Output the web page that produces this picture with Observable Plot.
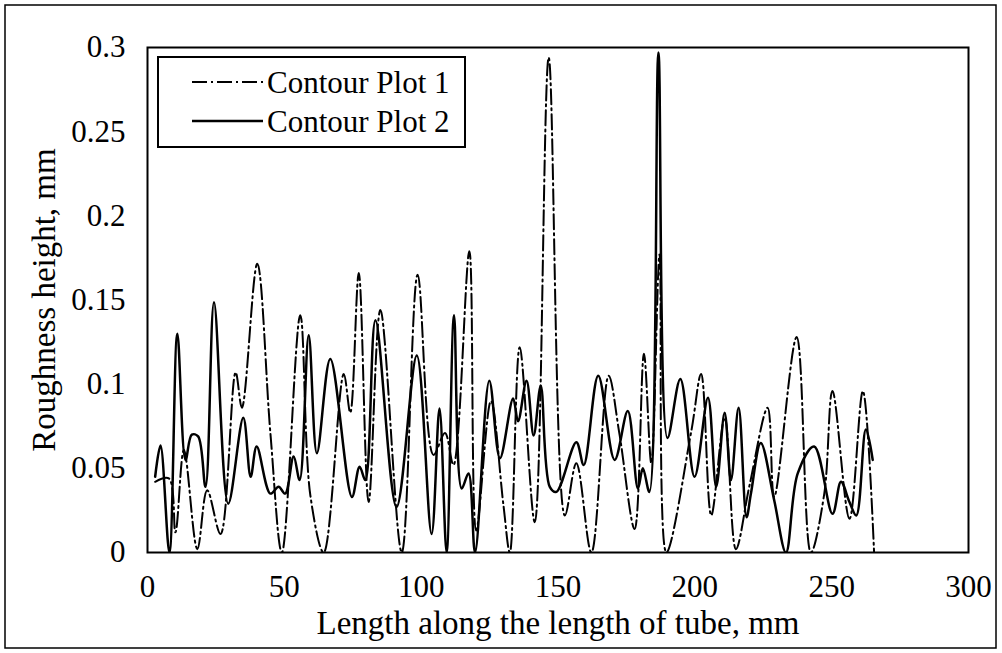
<!DOCTYPE html>
<html><head><meta charset="utf-8">
<script src="https://cdn.jsdelivr.net/npm/d3@7"></script>
<script src="https://cdn.jsdelivr.net/npm/@observablehq/plot@0.6"></script>
<style>
body{margin:0;background:#fff}
#chart{position:relative;width:1002px;height:653px;overflow:hidden}
</style>
</head><body><div id="chart"></div>
<script>
const xTicks = [0, 50, 100, 150, 200, 250, 300];
const yTicks = [0, 0.05, 0.1, 0.15, 0.2, 0.25, 0.3];
const yTickLabels = ["0", "0.05", "0.1", "0.15", "0.2", "0.25", "0.3"];
const seriesNames = ["Contour Plot 1", "Contour Plot 2"];
const xTitle = "Length along the length of tube, mm";
const yTitle = "Roughness height, mm";

// Contour Plot 1 (dash-dot)
const plot1X = [2.8, 7.8, 10.2, 13.3, 18.2, 21.8, 26.7, 32.2, 34.5, 40.1, 44.9, 49.1, 55.8, 59.5, 64.4, 71.7, 74.1, 77.2, 80.8, 85.1, 92.9, 98.7, 104.5, 108.7, 111.8, 117.6, 120.1, 125.5, 130.0, 132.4, 136.0, 141.5, 146.6, 152.5, 156.7, 162.2, 168.5, 172.4, 178.0, 181.4, 184.1, 187.1, 189.6, 198.7, 202.3, 206.0, 210.9, 215.0, 220.0, 226.6, 229.0, 237.2, 242.4, 247.3, 250.3, 256.5, 261.4, 265.5];
const plot1Y = [0.042, 0.044, 0.012, 0.061, 0.002, 0.037, 0.011, 0.107, 0.086, 0.1715, 0.071, 0.0, 0.141, 0.034, 0.0, 0.106, 0.083, 0.166, 0.030, 0.144, 0.0, 0.165, 0.058, 0.071, 0.052, 0.179, 0.013, 0.090, 0.029, 0.0, 0.122, 0.018, 0.294, 0.022, 0.053, 0.0, 0.105, 0.071, 0.014, 0.118, 0.053, 0.177, 0.0, 0.072, 0.106, 0.022, 0.080, 0.002, 0.040, 0.086, 0.033, 0.128, 0.0, 0.035, 0.096, 0.020, 0.096, 0.0];

// Contour Plot 2 (solid)
const plot2X = [2.8, 4.75, 8.0, 10.9, 13.9, 16.2, 18.5, 21.2, 24.3, 29.5, 35.0, 37.7, 39.9, 44.9, 47.9, 50.3, 53.4, 55.6, 58.9, 61.9, 66.8, 74.7, 77.5, 79.6, 83.3, 91.0, 98.4, 103.8, 106.7, 109.3, 112.0, 114.8, 117.3, 119.7, 124.9, 128.8, 133.6, 135.4, 138.5, 141.1, 143.7, 147.0, 149.4, 156.7, 159.4, 164.7, 170.7, 175.5, 179.2, 181.0, 183.4, 186.7, 190.0, 194.7, 199.9, 204.8, 207.8, 210.9, 213.2, 216.0, 218.9, 220.5, 224.1, 229.0, 233.3, 237.6, 243.6, 250.3, 253.4, 256.5, 259.0, 262.5, 265.0];
const plot2Y = [0.045, 0.0636, 0.0, 0.130, 0.055, 0.070, 0.069, 0.039, 0.1487, 0.029, 0.080, 0.045, 0.063, 0.035, 0.039, 0.035, 0.057, 0.043, 0.129, 0.059, 0.115, 0.033, 0.051, 0.043, 0.138, 0.027, 0.117, 0.011, 0.0855, 0.0, 0.141, 0.038, 0.047, 0.0, 0.102, 0.056, 0.0915, 0.078, 0.102, 0.0695, 0.099, 0.039, 0.036, 0.0655, 0.052, 0.105, 0.055, 0.084, 0.038, 0.050, 0.036, 0.297, 0.068, 0.103, 0.045, 0.092, 0.039, 0.083, 0.043, 0.086, 0.021, 0.035, 0.065, 0.031, 0.0, 0.047, 0.063, 0.023, 0.042, 0.030, 0.022, 0.073, 0.055];

const rows1 = plot1X.map((x, i) => ({x, y: plot1Y[i], s: seriesNames[0]}));
const rows2 = plot2X.map((x, i) => ({x, y: plot2Y[i], s: seriesNames[1]}));

const FONT = "'Liberation Serif', 'Times New Roman', serif";
const FS = 31;     // tick labels, legend
const FT = 33;     // axis titles
const DASH = "15,4,2,4";

const chart = Plot.plot({
  width: 1002,
  height: 653,
  marginLeft: 147,
  marginRight: 34,
  marginTop: 47,
  marginBottom: 101,
  style: {fontFamily: FONT, fontSize: FS + "px", color: "black", background: "white", overflow: "visible"},
  x: {domain: [0, 300]},
  y: {domain: [0, 0.3]},
  marks: [
    Plot.axisX({ticks: xTicks, tickSize: 0, tickPadding: 22, label: null, fontSize: FS}),
    Plot.axisY({ticks: yTicks, tickFormat: d => yTickLabels[yTicks.indexOf(d)], tickSize: 0, tickPadding: 22, label: null, fontSize: FS}),
    Plot.line(rows1, {x: "x", y: "y", curve: "catmull-rom", stroke: "black", strokeWidth: 2, strokeDasharray: DASH, clip: true}),
    Plot.line(rows2, {x: "x", y: "y", curve: "catmull-rom", stroke: "black", strokeWidth: 2.5, clip: true}),
    Plot.frame({stroke: "black", strokeWidth: 2}),
    Plot.text([xTitle], {frameAnchor: "bottom", dy: 71, textAnchor: "middle", lineAnchor: "middle", fontSize: FT, fill: "black"}),
    Plot.text([yTitle], {frameAnchor: "left", dx: -103, rotate: -90, textAnchor: "middle", lineAnchor: "middle", fontSize: FT, fill: "black"})
  ]
});

document.getElementById("chart").appendChild(chart);

// outer border and legend
const svg = d3.select(chart);
svg.append("rect").attr("x", 5).attr("y", 5).attr("width", 991).attr("height", 643)
  .attr("fill", "none").attr("stroke", "black").attr("stroke-width", 1.5);

const lg = svg.append("g").attr("text-anchor", "start");
lg.append("rect").attr("x", 158).attr("y", 57).attr("width", 307).attr("height", 90)
  .attr("fill", "white").attr("stroke", "black").attr("stroke-width", 2);
const entries = [
  {name: seriesNames[0], dash: DASH, w: 2, y: 82},
  {name: seriesNames[1], dash: null, w: 2.5, y: 121}
];
entries.forEach(e => {
  const ln = lg.append("line").attr("x1", 192).attr("x2", 263).attr("y1", e.y).attr("y2", e.y)
    .attr("stroke", "black").attr("stroke-width", e.w);
  if (e.dash) ln.attr("stroke-dasharray", e.dash);
  lg.append("text").attr("x", 267).attr("y", e.y).attr("dy", "0.35em")
    .attr("text-anchor", "start")
    .attr("font-family", FONT).attr("font-size", FS).attr("fill", "black").text(e.name);
});
</script>
</body></html>
